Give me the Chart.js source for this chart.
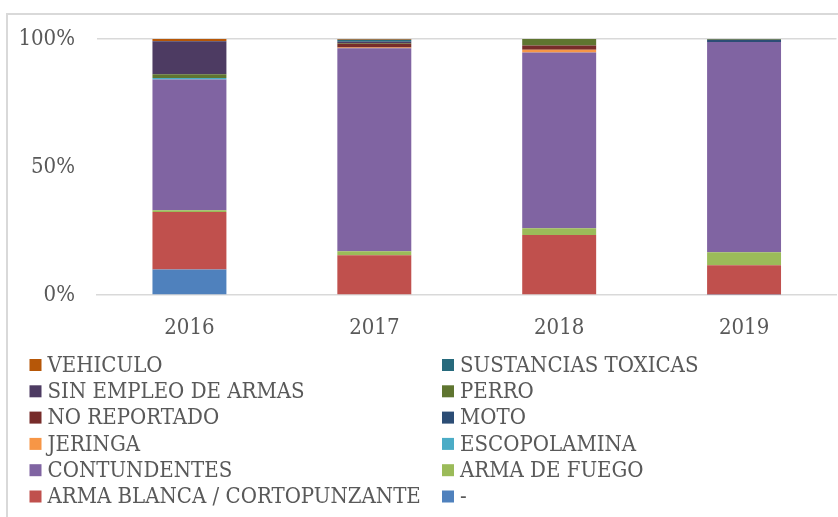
<!DOCTYPE html>
<html lang="es">
<head>
    <meta charset="UTF-8">
    <title>Armas por año</title>
    <script src="https://cdn.jsdelivr.net/npm/chart.js"></script>
    <style>
        body { margin: 0; background: #fff; overflow: hidden; }
        .frame {
            position: absolute; left: 6px; top: 13px;
            width: 900px; height: 600px;
            border: 2px solid #d9d9d9;
        }
        #chart { position: absolute; left: 0; top: 0; }
    </style>
</head>
<body>
    <div class="frame"></div>
    <canvas id="chart" width="838" height="517"></canvas>

    <script>
        // años
        const years = ["2016", "2017", "2018", "2019"];
        const yTicks = [0, 50, 100];

        // porcentaje por año, de abajo hacia arriba
        const guion        = [10.0,  0.0,  0.0,  0.2];
        const armaBlanca   = [22.4, 15.5, 23.4, 11.4];
        const armaFuego    = [ 0.7,  1.6,  2.7,  5.1];
        const contundentes = [51.1, 79.3, 68.6, 82.1];
        const escopolamina = [ 0.6,  0.0,  0.0,  0.0];
        const jeringa      = [ 0.0,  0.3,  1.1,  0.0];
        const moto         = [ 0.0,  0.0,  0.0,  0.9];
        const noReportado  = [ 0.0,  1.4,  1.7,  0.0];
        const perro        = [ 1.4,  0.3,  2.5,  0.3];
        const sinEmpleo    = [12.9,  0.5,  0.0,  0.0];
        const sustancias   = [ 0.1,  0.8,  0.0,  0.0];
        const vehiculo     = [ 0.8,  0.3,  0.0,  0.0];

        const FONT = '"DejaVu Serif Condensed", "DejaVu Serif", serif';
        const TEXT = '#595959';

        const series = [
            ["-", guion, "#4f81bd"],
            ["ARMA BLANCA / CORTOPUNZANTE", armaBlanca, "#c0504d"],
            ["ARMA DE FUEGO", armaFuego, "#9bbb59"],
            ["CONTUNDENTES", contundentes, "#8064a2"],
            ["ESCOPOLAMINA", escopolamina, "#4bacc6"],
            ["JERINGA", jeringa, "#f79646"],
            ["MOTO", moto, "#2c4d75"],
            ["NO REPORTADO", noReportado, "#772c2a"],
            ["PERRO", perro, "#5f7530"],
            ["SIN EMPLEO DE ARMAS", sinEmpleo, "#4d3b62"],
            ["SUSTANCIAS TOXICAS", sustancias, "#276a7c"],
            ["VEHICULO", vehiculo, "#b65708"]
        ];

        // leyenda en dos columnas, orden inverso como en Excel
        const twoColLegend = {
            id: "twoColLegend",
            afterDraw(chart) {
                const ctx = chart.ctx;
                const items = chart.data.datasets.slice().reverse();
                ctx.save();
                ctx.font = "22px " + FONT;
                ctx.textBaseline = "middle";
                items.forEach((ds, i) => {
                    const col = i % 2;
                    const row = Math.floor(i / 2);
                    const bx = col === 0 ? 29.5 : 442;
                    const y = 365 + row * 26.3;
                    ctx.fillStyle = ds.backgroundColor;
                    ctx.fillRect(bx, y - 6, 12, 12);
                    ctx.fillStyle = TEXT;
                    ctx.fillText(ds.label, bx + 18, y + 1);
                });
                ctx.restore();
            }
        };

        const ctx = document.getElementById("chart").getContext("2d");
        new Chart(ctx, {
            type: "bar",
            data: {
                labels: years,
                datasets: series.map(([label, values, color]) => ({
                    label: label,
                    data: values,
                    backgroundColor: color,
                    borderWidth: 0,
                    categoryPercentage: 1,
                    barPercentage: 0.4
                }))
            },
            options: {
                responsive: false,
                animation: false,
                layout: { padding: { top: 39, right: 1.5, left: 0, bottom: 0 } },
                plugins: {
                    legend: { display: false },
                    tooltip: { enabled: false }
                },
                scales: {
                    x: {
                        stacked: true,
                        grid: { display: false },
                        border: { display: true, color: "#d9d9d9", width: 1.5 },
                        ticks: { color: TEXT, font: { family: FONT, size: 22 }, padding: 12 },
                        afterFit: s => { s.height = 222; }
                    },
                    y: {
                        stacked: true,
                        min: 0,
                        max: 100,
                        afterBuildTicks: s => { s.ticks = yTicks.map(v => ({ value: v })); },
                        grid: {
                            drawTicks: false,
                            color: c => (c.tick && c.tick.value === 100 ? "#d9d9d9" : "rgba(0,0,0,0)"),
                            lineWidth: 1.5
                        },
                        border: { display: false },
                        ticks: {
                            color: TEXT,
                            font: { family: FONT, size: 22 },
                            padding: 22,
                            callback: v => v + "%"
                        },
                        afterFit: s => { s.width = 97; }
                    }
                }
            },
            plugins: [twoColLegend]
        });
    </script>
</body>
</html>
